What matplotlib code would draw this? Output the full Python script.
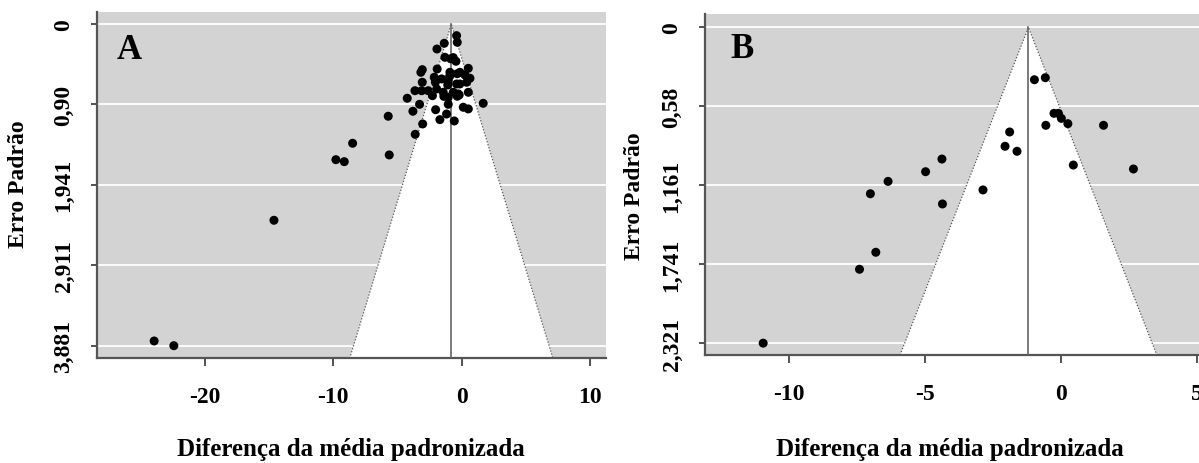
import numpy as np
import matplotlib.pyplot as plt
from matplotlib.patches import Polygon

plt.rcParams['font.family'] = ['Liberation Serif', 'DejaVu Serif']
plt.rcParams['font.weight'] = 'bold'

# Painel A: diferenca da media padronizada e erro padrao de cada estudo
a_dif = [-0.40, -0.35, -1.36, -1.93, -1.31, -0.66, -0.45, -0.86, -3.07, -3.18,
         -1.91, 0.51, -0.92, -0.14, -0.35, 0.25, -0.94, 0.64, 0.38, -3.07,
         -2.14, -1.56, -1.05, -0.40, -0.15, -2.05, -1.09, -3.64, -3.12, -2.61,
         -1.95, -1.44, -0.66, -0.27, 0.51, -2.28, -1.39, -0.20, -4.24, -1.05,
         -0.35, -3.28, -2.03, -1.05, 0.12, 0.51, 1.67, -3.80, -1.18, -1.70,
         -3.04, -0.58, -3.62, -5.72, -8.49, -9.79, -9.14, -5.64, -14.61,
         -23.93, -22.40]
a_ep = [0.141, 0.221, 0.233, 0.302, 0.402, 0.406, 0.450, 0.420, 0.551, 0.583,
        0.543, 0.535, 0.583, 0.583, 0.600, 0.615, 0.631, 0.655, 0.703, 0.703,
        0.643, 0.663, 0.684, 0.724, 0.724, 0.703, 0.736, 0.805, 0.805, 0.805,
        0.784, 0.824, 0.824, 0.844, 0.824, 0.865, 0.873, 0.856, 0.896, 0.884,
        0.872, 0.969, 1.034, 0.969, 1.005, 1.025, 0.957, 1.053, 1.086, 1.154,
        1.206, 1.170, 1.331, 1.113, 1.439, 1.637, 1.661, 1.580, 2.368,
        3.824, 3.881]

# Painel B
b_dif = [-0.98, -0.58, -0.26, -0.10, 0.01, -0.56, 0.25, 1.56, -1.89, -2.06,
         -1.62, -4.38, -4.98, -6.36, -7.01, -2.87, -4.36, 0.45, 2.66, -6.81,
         -7.41, -10.95]
b_ep = [0.385, 0.370, 0.632, 0.632, 0.669, 0.720, 0.708, 0.720, 0.769, 0.874,
        0.911, 0.968, 1.061, 1.132, 1.223, 1.195, 1.298, 1.012, 1.041, 1.653,
        1.778, 2.321]

a_centro = -0.81
b_centro = -1.20

a_yticks = [0, 0.9703, 1.9405, 2.9108, 3.881]
a_ylabels = ['0', '0,90', '1,941', '2,911', '3,881']
b_yticks = [0, 0.5803, 1.1605, 1.7408, 2.321]
b_ylabels = ['0', '0,58', '1,161', '1,741', '2,321']
a_xticks = [-20, -10, 0, 10]
b_xticks = [-10, -5, 0, 5]

W, H = 1199, 464
fig = plt.figure(figsize=(W / 100, H / 100), dpi=100)

def funil(ax, dif, ep, centro, yticks, ylabels, xticks, xlim, ylim):
    ax.set_facecolor('#d3d3d3')
    ax.set_xlim(*xlim)
    ax.set_ylim(ylim[1], ylim[0])
    for y in yticks:
        ax.axhline(y, color='white', lw=1.3, zorder=1)
    base = ylim[1]
    tri = Polygon([[centro - 1.96 * base, base], [centro, 0], [centro + 1.96 * base, base]],
                  closed=True, facecolor='white', edgecolor='none', zorder=2)
    ax.add_patch(tri)
    ax.plot([centro - 1.96 * base, centro, centro + 1.96 * base], [base, 0, base],
            color='#555555', lw=0.9, ls=(0, (1, 1.5)), zorder=3)
    ax.plot([centro, centro], [0, base], color='#666666', lw=1.2, zorder=3)
    ax.scatter(dif, ep, s=42, color='black', edgecolors='none', zorder=4)
    ax.set_yticks(yticks)
    ax.set_yticklabels(ylabels, rotation=90, va='center')
    ax.set_xticks(xticks)
    ax.set_xticklabels([str(t) for t in xticks])
    ax.tick_params(axis='x', length=6, width=1.3, color='#444444', pad=14, labelsize=17)
    ax.tick_params(axis='y', length=4, width=1.3, color='#444444', pad=12, labelsize=17)
    for s in ['top', 'right']:
        ax.spines[s].set_visible(False)
    for s in ['left', 'bottom']:
        ax.spines[s].set_color('#555555')
        ax.spines[s].set_linewidth(1.6)

ax1 = fig.add_axes([96.7 / W, 1 - 359.3 / H, 509 / W, (359.3 - 12.7) / H])
funil(ax1, a_dif, a_ep, a_centro, a_yticks, a_ylabels, a_xticks,
      (-28.4, 11.2), (-0.148, 4.033))

ax2 = fig.add_axes([704.7 / W, 1 - 356 / H, (W - 704.7) / W, (356 - 15) / H])
funil(ax2, b_dif, b_ep, b_centro, b_yticks, b_ylabels, b_xticks,
      (-13.1, 5.07), (-0.098, 2.408))

ax1.text(117 / W, 1 - 59 / H, 'A', transform=fig.transFigure, fontsize=25, fontweight='bold')
ax2.text(730 / W, 1 - 58 / H, 'B', transform=fig.transFigure, fontsize=25, fontweight='bold')

fig.text(18.6 / W, 1 - 184 / H, 'Erro Padrão', rotation=90, ha='center', va='center', fontsize=17)
fig.text(634 / W, 1 - 196 / H, 'Erro Padrão', rotation=90, ha='center', va='center', fontsize=17)
fig.text(351 / W, 1 - 450 / H, 'Diferença da média padronizada', ha='center', va='center', fontsize=18)
fig.text(950 / W, 1 - 450 / H, 'Diferença da média padronizada', ha='center', va='center', fontsize=18)

fig.savefig('out.png', dpi=100)
